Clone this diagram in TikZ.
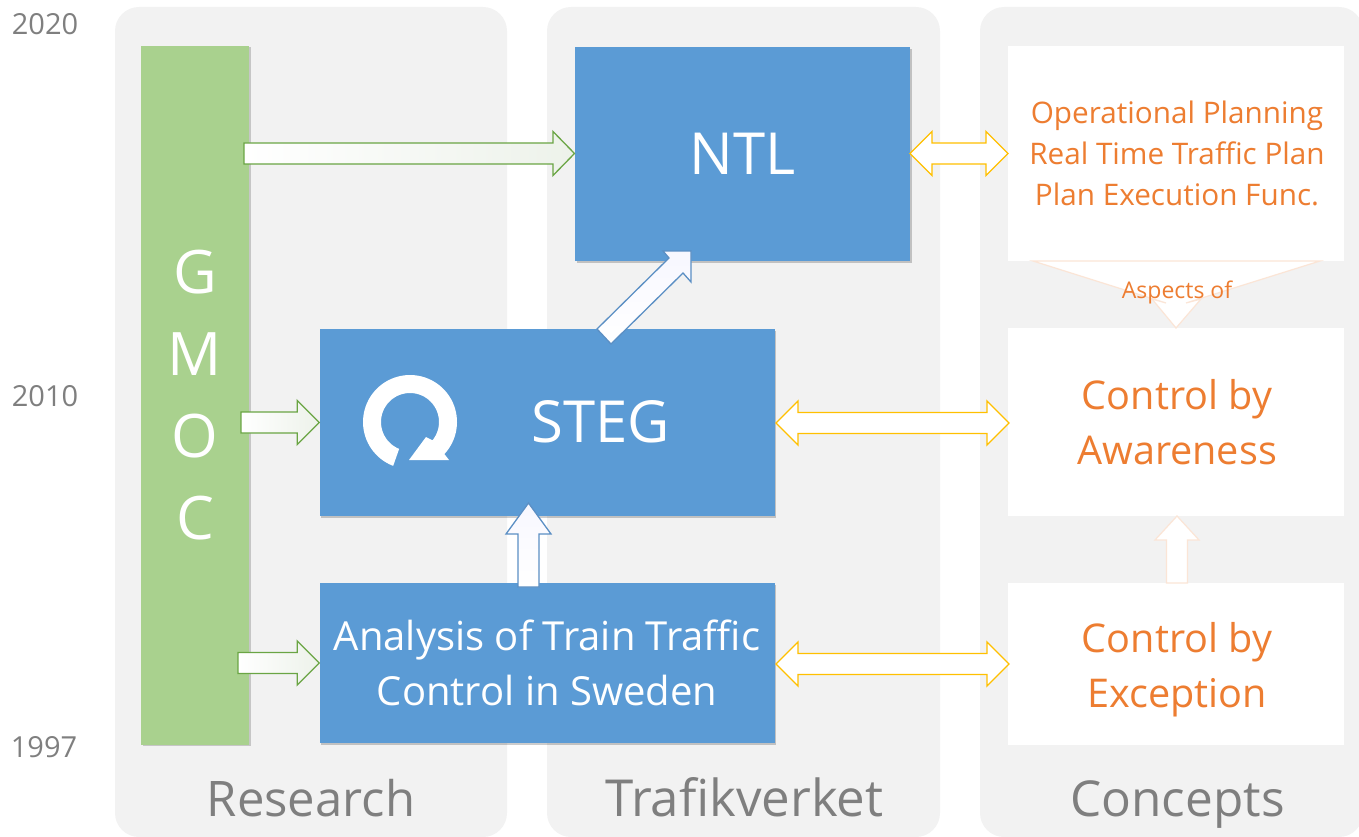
\documentclass[tikz,border=0pt]{standalone}
\usepackage{fontspec}
\setmainfont{Open Sans}
\usetikzlibrary{calc,shadows}
\definecolor{panelc}{HTML}{F2F2F2}
\definecolor{bluec}{HTML}{5B9BD5}
\definecolor{greenc}{HTML}{A9D18E}
\definecolor{darkgreen}{HTML}{6AA544}
\definecolor{bluedge}{HTML}{5B8FC4}
\definecolor{orangec}{HTML}{ED7D31}
\definecolor{paleorange}{HTML}{FBE5D6}
\definecolor{goldc}{HTML}{FFC000}
\definecolor{grayt}{HTML}{7F7F7F}
\definecolor{fadegreen}{HTML}{EDF2EA}
\newcommand\fs[2]{\fontsize{#1}{#2}\selectfont}
\newcommand\sarrow[6][]{%
  \coordinate (P) at ($(#3)!#6!(#2)$);
  \path[#1] ($(#2)!#4!90:(#3)$) -- ($(P)!#4!90:(#3)$) -- ($(P)!#5!90:(#3)$) -- (#3)
    -- ($(P)!#5!-90:(#3)$) -- ($(P)!#4!-90:(#3)$) -- ($(#2)!#4!-90:(#3)$) -- cycle;}
\newcommand\darrow[6][]{%
  \coordinate (P) at ($(#3)!#6!(#2)$);
  \coordinate (Q) at ($(#2)!#6!(#3)$);
  \path[#1] (#2) -- ($(Q)!#5!90:(#3)$) -- ($(Q)!#4!90:(#3)$) -- ($(P)!#4!90:(#3)$) -- ($(P)!#5!90:(#3)$) -- (#3)
    -- ($(P)!#5!-90:(#3)$) -- ($(P)!#4!-90:(#3)$) -- ($(Q)!#4!-90:(#3)$) -- ($(Q)!#5!-90:(#3)$) -- cycle;}
\tikzset{
  panel/.style={fill=panelc,draw=none,rounded corners=24pt,inner sep=0pt},
  boxbase/.style={rectangle,inner sep=0pt,align=center,text=white},
  bluebox/.style={boxbase,fill=bluec,drop shadow={shadow xshift=1.5pt,shadow yshift=-2pt,fill=black,opacity=.2}},
  conceptbox/.style={rectangle,inner sep=0pt,fill=white},
  concepttext/.style={inner sep=0pt,align=center,text=orangec},
  greenbar/.style={boxbase,fill=greenc,drop shadow={shadow xshift=2pt,shadow yshift=-1pt,fill=black,opacity=.18}},
  yearlabel/.style={text=grayt,inner sep=0pt,font=\fs{29}{29}},
  paneltitle/.style={text=grayt,inner sep=0pt,anchor=base},
  greenfade/.style={draw=darkgreen,line width=1.3pt,left color=white,right color=fadegreen},
  bluearrow/.style={draw=bluedge,line width=1.3pt,bottom color=white,top color=blue!3!white},
  goldarrow/.style={draw=goldc,line width=1.3pt,fill=white},
  palearrow/.style={draw=paleorange,line width=1.2pt,fill=white},
}
\begin{document}
\begin{tikzpicture}[x=1pt,y=-1pt]
\useasboundingbox (0,0) rectangle (1359,837);
% panels
\node[panel,minimum width=392pt,minimum height=830pt] (pR) at (311,422) {};
\node[panel,minimum width=393pt,minimum height=830pt] (pT) at (743.5,422) {};
\path[panel] (980,7) rectangle (1363,837);
% year labels
\node[yearlabel] (y2020) at (45,24) {2020};
\node[yearlabel] (y2010) at (45,396) {2010};
\node[yearlabel] (y1997) at (44,747) {1997};
% panel titles
\node[paneltitle,font=\fs{49}{49}] (tR) at (311,816) {Research};
\node[paneltitle,font=\fs{51}{51}] (tT) at (744.5,816) {Trafikverket};
\node[paneltitle,font=\fs{49.5}{50}] (tC) at (1177.5,816) {Concepts};
% boxes
\node[greenbar,minimum width=107.5pt,minimum height=699pt,font=\fs{60}{82}] (gmoc) at (195,395.5) {G\\M\\O\\C};
\node[bluebox,minimum width=335pt,minimum height=214pt,font=\fs{58}{58}] (ntl) at (742.5,154) {NTL};
\node[bluebox,minimum width=455pt,minimum height=187pt] (steg) at (547,422.5) {};
\node[text=white,inner sep=0pt,font=\fs{58}{58}] (stegt) at (601,422) {STEG};
\node[bluebox,minimum width=455pt,minimum height=160pt,font=\fs{40}{55}] (analysis) at (547,663) {Analysis of Train Traffic\\Control in Sweden};
\node[conceptbox,minimum width=336pt,minimum height=215pt] (plan) at (1176,153.5) {};
\node[conceptbox,minimum width=336pt,minimum height=188pt] (aware) at (1176,422) {};
\node[conceptbox,minimum width=336pt,minimum height=162pt] (except) at (1176,664) {};
\node[concepttext,font=\fs{29.7}{41}] (plant) at (1177,153.5) {Operational Planning\\Real Time Traffic Plan\\Plan Execution Func.};
\node[concepttext,font=\fs{39.6}{55}] (awaret) at (1177,422) {Control by\\Awareness};
\node[concepttext,font=\fs{39.6}{55}] (exceptt) at (1177,669.5) {Control by\\Exception};
% loop icon
\path[fill=white]
  plot[domain=111:403,samples=70] ({410+47*cos(\x)},{422+47*sin(\x)})
  -- (449,460) -- (409,460) -- (426,437) -- (432,440)
  -- plot[domain=399:112,samples=70] ({410+29*cos(\x)},{422+29*sin(\x)}) -- cycle;
% free arrow ends
\coordinate (g1) at (244,153.5);
\coordinate (n1) at (574.5,153.5);
\coordinate (g2) at (241,422.5);
\coordinate (g3) at (238,663);
\coordinate (d2) at (691,251);
\coordinate (u1) at (528.5,587);
\coordinate (u2) at (528.5,503);
\coordinate (c1) at (1177,583);
\coordinate (c2) at (1177,516);
\coordinate (s1) at (910,153.5);
\coordinate (s2) at (1008,153.5);
\coordinate (s3) at (776,423);
\coordinate (s4) at (1009,423);
\coordinate (s5) at (776,664);
\coordinate (s6) at (1009,664);
% green arrows
\sarrow[greenfade]{g1}{n1}{10.5pt}{22pt}{21.5pt}
\sarrow[greenfade]{g2}{steg.west}{10.5pt}{22pt}{22pt}
\sarrow[greenfade]{g3}{analysis.west}{10.5pt}{22pt}{22pt}
% blue arrows
\path[bluearrow] (597,329) -- (669,258) -- (663,251) -- (d2) -- (691,282) -- (683,273) -- (611,344) -- cycle;
\sarrow[bluearrow]{u1}{u2}{10.5pt}{22.5pt}{31pt}
% gold arrows
\darrow[goldarrow]{s1}{s2}{10.5pt}{22pt}{22pt}
\darrow[goldarrow]{s3}{s4}{10.5pt}{22pt}{22pt}
\darrow[goldarrow]{s5}{s6}{10.5pt}{22pt}{22pt}
% pale arrows
\sarrow[palearrow]{c1}{c2}{10.5pt}{22pt}{24pt}
\path[palearrow] (1033,261) -- (1320,261) -- (1186,303) -- (1201,299) -- (1176,328) -- (1152,299) -- (1166,303) -- cycle;
\node[text=orangec,inner sep=0pt,font=\fs{23}{23}] (asp) at (1177,292) {Aspects of};
\end{tikzpicture}
\end{document}
